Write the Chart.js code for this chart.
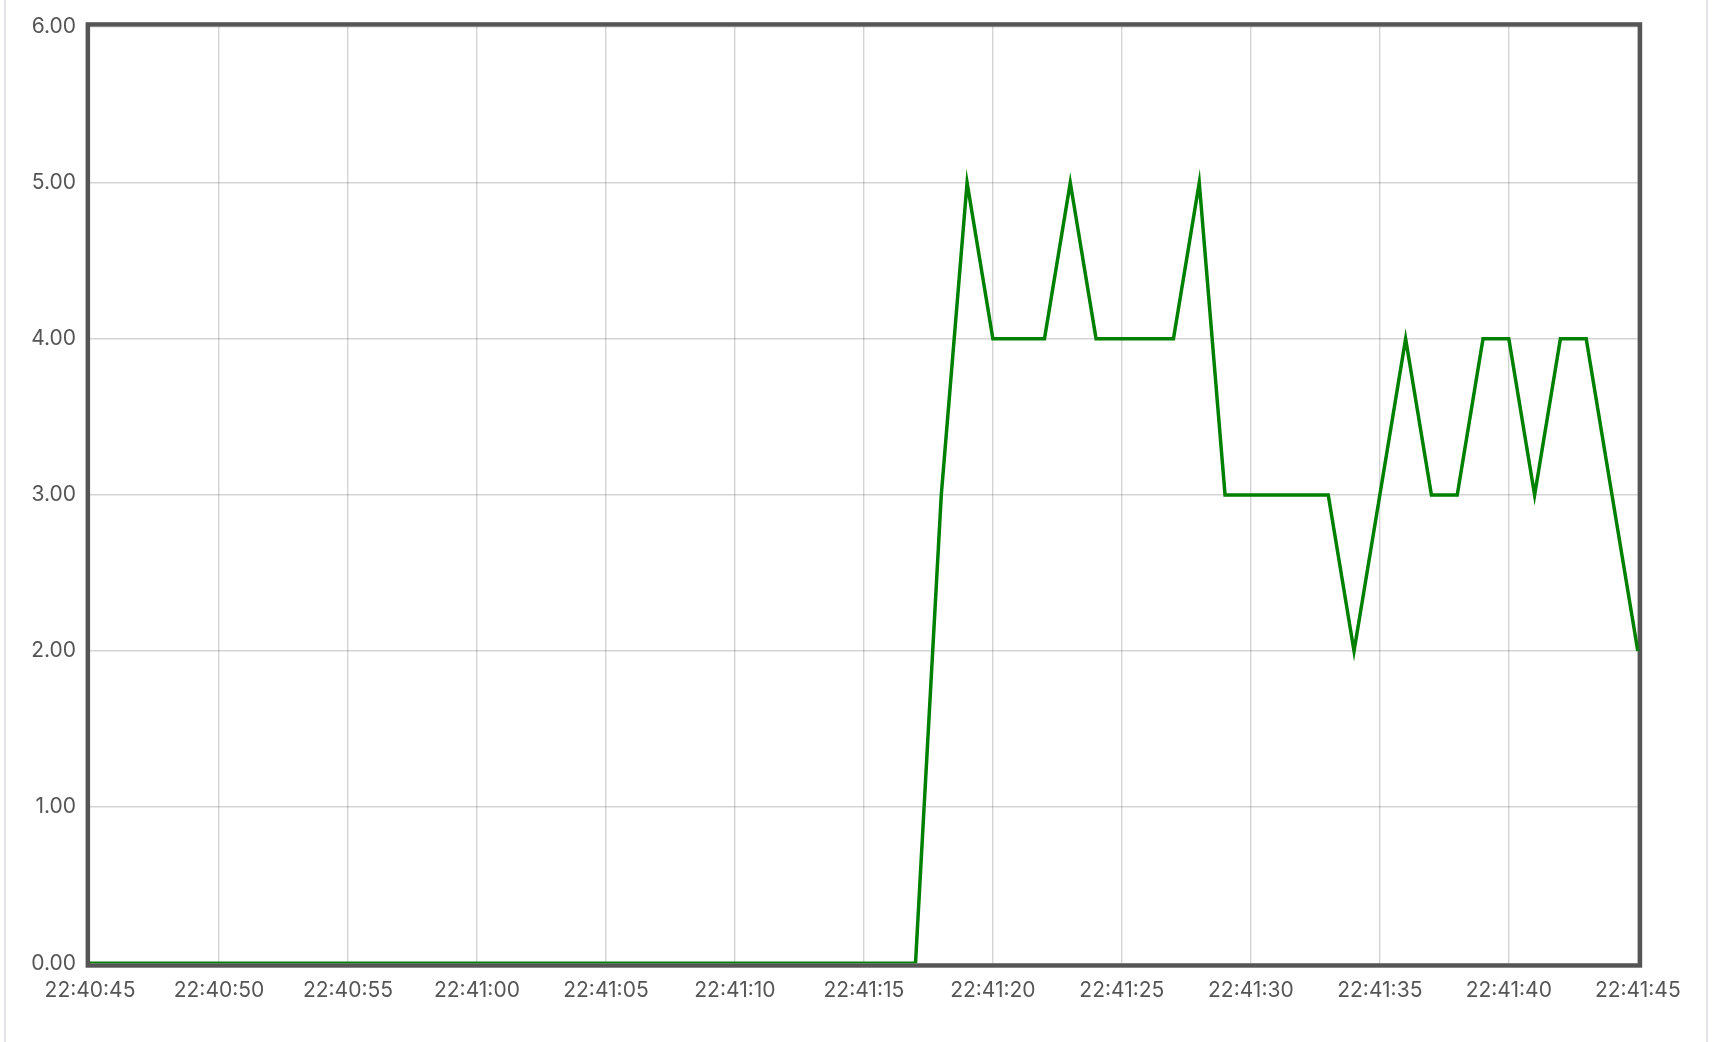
<!DOCTYPE html>
<html>
<head>
<meta charset="utf-8">
<script src="https://cdn.jsdelivr.net/npm/chart.js@4.4.1/dist/chart.umd.min.js"></script>
<style>
  html, body { margin: 0; padding: 0; background: #fff; overflow: hidden; }
  #frame { position: absolute; left: 4px; top: -4px; width: 1700px; height: 1060px;
           border-left: 2px solid #e2e4e7; border-right: 2px solid #e2e4e7; }
  #c { position: absolute; left: 0; top: 0; }
</style>
</head>
<body>
<div id="frame"></div>
<canvas id="c" width="1732" height="1042"></canvas>
<script>
// Time categories, one per second
const times = [
  '22:40:45','22:40:46','22:40:47','22:40:48','22:40:49','22:40:50','22:40:51','22:40:52','22:40:53','22:40:54',
  '22:40:55','22:40:56','22:40:57','22:40:58','22:40:59','22:41:00','22:41:01','22:41:02','22:41:03','22:41:04',
  '22:41:05','22:41:06','22:41:07','22:41:08','22:41:09','22:41:10','22:41:11','22:41:12','22:41:13','22:41:14',
  '22:41:15','22:41:16','22:41:17','22:41:18','22:41:19','22:41:20','22:41:21','22:41:22','22:41:23','22:41:24',
  '22:41:25','22:41:26','22:41:27','22:41:28','22:41:29','22:41:30','22:41:31','22:41:32','22:41:33','22:41:34',
  '22:41:35','22:41:36','22:41:37','22:41:38','22:41:39','22:41:40','22:41:41','22:41:42','22:41:43','22:41:44',
  '22:41:45'
];
// Series values
const values = [
  0,0,0,0,0,0,0,0,0,0,
  0,0,0,0,0,0,0,0,0,0,
  0,0,0,0,0,0,0,0,0,0,
  0,0,0,3,5,4,4,4,5,4,
  4,4,4,5,3,3,3,3,3,2,
  3,4,3,3,4,4,3,4,4,3,
  2
];
// Tick labels shown on the x axis
const xTickLabels = ['22:40:45','22:40:50','22:40:55','22:41:00','22:41:05','22:41:10',
                     '22:41:15','22:41:20','22:41:25','22:41:30','22:41:35','22:41:40','22:41:45'];
const yMin = 0, yMax = 6, yStep = 1;

const framePlugin = {
  id: 'frame',
  beforeDatasetsDraw(chart) {
    const a = chart.chartArea, ctx = chart.ctx;
    const w = 4.4, h = w / 2;
    ctx.save();
    ctx.strokeStyle = '#555555';
    ctx.lineWidth = w;
    ctx.strokeRect(a.left - h, a.top - h, a.right - a.left + w, a.bottom - a.top + w);
    ctx.restore();
  }
};

const tickFont = { family: 'Inter', size: 21 };
new Chart(document.getElementById('c'), {
  type: 'line',
  data: {
    labels: times,
    datasets: [{
      data: values,
      borderColor: '#008000',
      borderWidth: 3.5,
      pointRadius: 0,
      tension: 0,
      fill: false
    }]
  },
  options: {
    responsive: false,
    animation: false,
    layout: { padding: { left: 0, top: 26.5, right: 94.2, bottom: 0 } },
    plugins: { legend: { display: false }, tooltip: { enabled: false } },
    scales: {
      x: {
        type: 'category',
        offset: false,
        border: { display: false },
        grid: { color: 'rgba(0,0,0,0.17)', lineWidth: 1.4, drawTicks: false },
        ticks: {
          autoSkip: false, maxRotation: 0, minRotation: 0,
          padding: 15, color: '#555555', font: tickFont,
          callback: (v, i) => xTickLabels.includes(times[i]) ? times[i] : null
        },
        afterFit: s => { s.height = 78.7; }
      },
      y: {
        min: yMin, max: yMax,
        border: { display: false },
        grid: { color: 'rgba(0,0,0,0.17)', lineWidth: 1.4, drawTicks: false },
        ticks: {
          stepSize: yStep, padding: 14, color: '#555555', font: tickFont,
          callback: v => Number(v).toFixed(2)
        },
        afterFit: s => { s.width = 90; }
      }
    }
  },
  plugins: [framePlugin]
});
</script>
</body>
</html>
